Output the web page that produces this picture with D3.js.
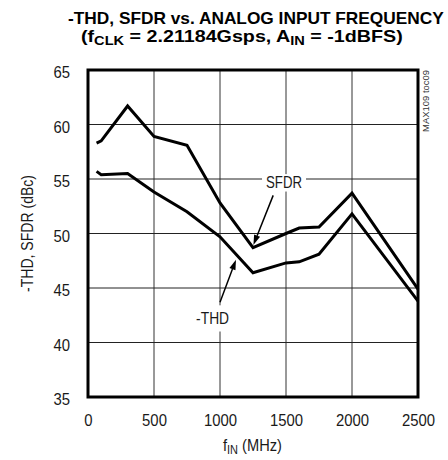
<!DOCTYPE html>
<html>
<head>
<meta charset="utf-8">
<script src="https://cdn.jsdelivr.net/npm/d3@7"></script>
<style>
  html, body { margin: 0; padding: 0; background: #fff; }
  svg { display: block; }
  text { font-family: "Liberation Sans", Arial, sans-serif; }
</style>
</head>
<body>
<svg id="chart" width="448" height="460"></svg>
<script>
// ---- data ----
const freqMHz = [65, 100, 300, 500, 750, 1000, 1250, 1500, 1600, 1750, 2000, 2500];
const sfdr    = [58.3, 58.5, 61.7, 58.9, 58.1, 52.8, 48.7, 50.0, 50.5, 50.6, 53.7, 44.9];
const thd     = [55.7, 55.4, 55.5, 53.8, 52.0, 49.7, 46.4, 47.3, 47.4, 48.1, 51.8, 43.8];
const xTicks  = [0, 500, 1000, 1500, 2000, 2500];
const yTicks  = [35, 40, 45, 50, 55, 60, 65];
// annotations in data units: label baseline position, arrow start, arrow tip
const sfdrNote = { text: "SFDR", label: [1485, 54.15], from: [1403, 53.5], to: [1253, 48.95] };
const thdNote  = { text: "-THD", label: [944, 41.67], from: [1000, 43.7], to: [1121, 47.6] };

const svg = d3.select("#chart");
const x = d3.scaleLinear().domain([0, 2500]).range([88, 418]);
const y = d3.scaleLinear().domain([35, 65]).range([397, 70]);
const TXT = "#1a1a1a";

// horizontally squeeze a text element so it fits a target width (condensed look)
function squeeze(sel, targetW, ox, oy, sy) {
  const w = sel.node().getBBox().width;
  const s = targetW / w;
  sel.attr("transform", `translate(${ox},${oy}) scale(${s},${sy || 1}) translate(${-ox},${-oy})`);
}

// grid
const grid = svg.append("g");
grid.selectAll("line.v").data(xTicks).join("line")
  .attr("x1", d => x(d)).attr("x2", d => x(d))
  .attr("y1", y(35)).attr("y2", y(65))
  .attr("stroke", "#333").attr("stroke-width", 1);
grid.selectAll("line.h").data(yTicks).join("line")
  .attr("x1", x(0)).attr("x2", x(2500))
  .attr("y1", d => y(d)).attr("y2", d => y(d))
  .attr("stroke", "#222").attr("stroke-width", 1);

// tick labels via axes (no domain / tick lines)
const xAxis = svg.append("g").attr("transform", `translate(0,${y(35)})`)
  .call(d3.axisBottom(x).tickValues(xTicks).tickSize(0).tickPadding(0).tickFormat(d3.format("d")));
xAxis.select(".domain").remove();
xAxis.selectAll("text").attr("y", 29).attr("dy", 0)
  .attr("font-size", 16).attr("fill", TXT)
  .style("font-family", "'Liberation Sans', Arial, sans-serif")
  .attr("transform", "scale(0.93,1)");

const yAxis = svg.append("g").attr("transform", `translate(70,0)`)
  .call(d3.axisLeft(y).tickValues(yTicks).tickSize(0).tickPadding(0).tickFormat(d3.format("d")));
yAxis.select(".domain").remove();
yAxis.selectAll("text").attr("x", 0).attr("dy", 7.5)
  .attr("font-size", 16).attr("fill", TXT)
  .style("font-family", "'Liberation Sans', Arial, sans-serif")
  .attr("transform", "scale(0.93,1)");

// annotations: white label backgrounds + arrows
const annot = svg.append("g");
function arrow(note) {
  const [x1, y1] = [x(note.from[0]), y(note.from[1])];
  const [x2, y2] = [x(note.to[0]), y(note.to[1])];
  const ang = Math.atan2(y2 - y1, x2 - x1);
  const L = 10, W = 3.2;
  const bx = x2 - L * Math.cos(ang), by = y2 - L * Math.sin(ang);
  annot.append("line").attr("x1", x1).attr("y1", y1).attr("x2", bx).attr("y2", by)
    .attr("stroke", "#000").attr("stroke-width", 1.5);
  annot.append("path")
    .attr("d", `M${x2},${y2}L${bx + W * Math.sin(ang)},${by - W * Math.cos(ang)}L${bx - W * Math.sin(ang)},${by + W * Math.cos(ang)}Z`)
    .attr("fill", "#000");
}
function label(note, targetW, padX, padY) {
  const lx = x(note.label[0]), ly = y(note.label[1]);
  const bg = annot.append("rect").attr("fill", "#fff");
  const t = annot.append("text").text(note.text)
    .attr("x", lx).attr("y", ly)
    .attr("text-anchor", "middle").attr("font-size", 16).attr("fill", TXT);
  squeeze(t, targetW, lx, ly);
  const bb = t.node().getBBox();
  const w = targetW;
  bg.attr("x", lx - w / 2 - padX).attr("y", bb.y - padY)
    .attr("width", w + 2 * padX).attr("height", bb.height + 2 * padY);
}
label(sfdrNote, 36, 4, 0);
label(thdNote, 33, 2, 4);
arrow(sfdrNote);
arrow(thdNote);

// series lines
const line = d3.line().x((d, i) => x(freqMHz[i])).y(d => y(d));
[sfdr, thd].forEach(s => {
  svg.append("path").datum(s).attr("d", line)
    .attr("fill", "none").attr("stroke", "#000").attr("stroke-width", 3)
    .attr("stroke-linejoin", "miter");
});

// frame
svg.append("rect").attr("x", x(0)).attr("y", y(65))
  .attr("width", x(2500) - x(0)).attr("height", y(35) - y(65))
  .attr("fill", "none").attr("stroke", "#000").attr("stroke-width", 3);

// title (slightly vertically stretched condensed bold)
const t1 = svg.append("text").attr("x", 68).attr("y", 24)
  .attr("font-size", 15.5).attr("font-weight", "bold").attr("fill", "#000")
  .text("-THD, SFDR vs. ANALOG INPUT FREQUENCY");
squeeze(t1, 377, 68, 24, 1.1);
const t2 = svg.append("text").attr("x", 81).attr("y", 42.5)
  .attr("font-size", 15.5).attr("font-weight", "bold").attr("fill", "#000");
t2.append("tspan").text("(f");
t2.append("tspan").attr("font-size", 11.5).attr("dy", 2.5).text("CLK");
t2.append("tspan").attr("dy", -2.5).text(" = 2.21184Gsps, A");
t2.append("tspan").attr("font-size", 11.5).attr("dy", 2.5).text("IN");
t2.append("tspan").attr("dy", -2.5).text(" = -1dBFS)");
squeeze(t2, 322, 81, 42.5, 1.1);

// axis titles
const xt = svg.append("text").attr("x", 223).attr("y", 451.5)
  .attr("font-size", 16).attr("fill", TXT);
xt.append("tspan").text("f");
xt.append("tspan").attr("font-size", 12).attr("dy", 3).text("IN");
xt.append("tspan").attr("dy", -3).text(" (MHz)");
squeeze(xt, 59, 223, 451.5);

const yt = svg.append("text").attr("x", 0).attr("y", 0)
  .attr("text-anchor", "middle").attr("font-size", 16).attr("fill", TXT)
  .text("-THD, SFDR (dBc)");
const ytw = yt.node().getBBox().width;
yt.attr("transform", `translate(33,${(y(35) + y(65)) / 2}) rotate(-90) scale(${117 / ytw},1)`);

// figure id
const fid = svg.append("text").attr("x", 0).attr("y", 0)
  .attr("text-anchor", "end").attr("font-size", 9).attr("fill", "#333")
  .text("MAX109 toc09");
const fw = fid.node().getBBox().width;
fid.attr("transform", `translate(428.5,70) rotate(-90) scale(${62 / fw},1)`);
</script>
</body>
</html>
